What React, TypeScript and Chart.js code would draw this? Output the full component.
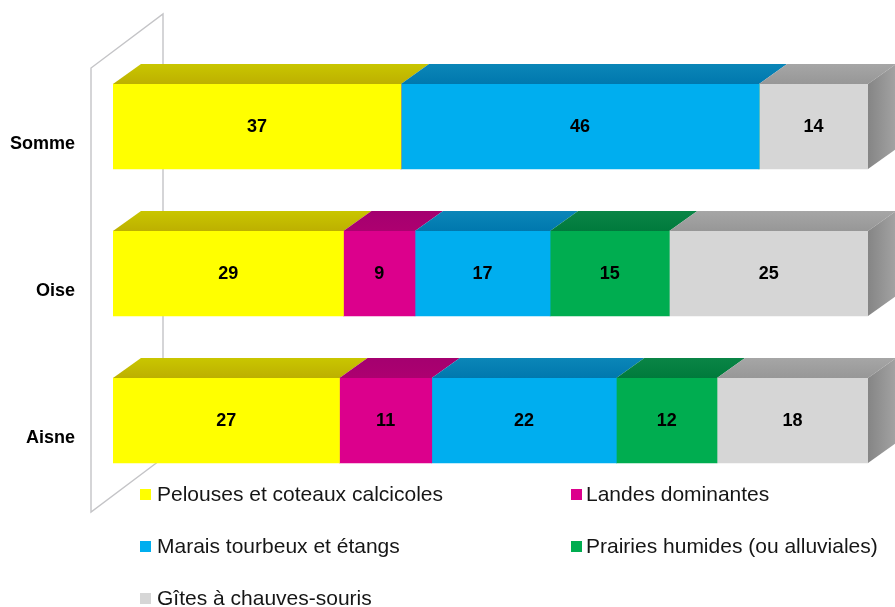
import React, { useEffect, useRef } from "react";
import { Chart, registerables } from "chart.js";

Chart.register(...registerables);

const departements = ["Somme", "Oise", "Aisne"];
const pelouses = [37, 29, 27];
const landes = [0, 9, 11];
const marais = [46, 17, 22];
const prairies = [0, 15, 12];
const gites = [14, 25, 18];

const seriesNames = [
  "Pelouses et coteaux calcicoles",
  "Landes dominantes",
  "Marais tourbeux et étangs",
  "Prairies humides (ou alluviales)",
  "Gîtes à chauves-souris",
];
const seriesValues = [pelouses, landes, marais, prairies, gites];
const frontColors = ["#FFFF00", "#DC008C", "#00AEEF", "#00AD50", "#D6D6D6"];
const topColorsBack = ["#C9C600", "#A4006F", "#0B86B8", "#0A8546", "#A6A6A6"];
const topColorsFront = ["#BDB000", "#AD0070", "#0078AE", "#007A3C", "#979797"];

const totals = departements.map((_, i) =>
  seriesValues.reduce((sum, s) => sum + s[i], 0)
);

const DEPTH_X = 28;
const DEPTH_Y = 20;
const FONT = '"Liberation Sans", Arial, Helvetica, sans-serif';

const wallPlugin = {
  id: "wall",
  beforeDatasetsDraw(chart: any) {
    const { ctx } = chart;
    ctx.save();
    ctx.strokeStyle = "#C4C4C7";
    ctx.lineWidth = 1.4;
    ctx.beginPath();
    ctx.moveTo(163, 458);
    ctx.lineTo(91, 512);
    ctx.lineTo(91, 68);
    ctx.lineTo(163, 14);
    ctx.closePath();
    ctx.stroke();
    ctx.restore();
  },
};

const depthPlugin = {
  id: "depth",
  afterDatasetsDraw(chart: any) {
    const { ctx } = chart;
    ctx.save();
    departements.forEach((_, j) => {
      let lastBar: any = null;
      seriesValues.forEach((s, i) => {
        const bar = chart.getDatasetMeta(i).data[j];
        if (!s[j]) return;
        const top = bar.y - bar.height / 2;
        const g = ctx.createLinearGradient(0, top - DEPTH_Y, 0, top);
        g.addColorStop(0, topColorsBack[i]);
        g.addColorStop(1, topColorsFront[i]);
        ctx.fillStyle = g;
        ctx.beginPath();
        ctx.moveTo(bar.base, top);
        ctx.lineTo(bar.x, top);
        ctx.lineTo(bar.x + DEPTH_X, top - DEPTH_Y);
        ctx.lineTo(bar.base + DEPTH_X, top - DEPTH_Y);
        ctx.closePath();
        ctx.fill();
        lastBar = bar;
      });
      if (lastBar) {
        const top = lastBar.y - lastBar.height / 2;
        const bottom = lastBar.y + lastBar.height / 2;
        const g = ctx.createLinearGradient(lastBar.x, 0, lastBar.x + DEPTH_X, 0);
        g.addColorStop(0, "#858585");
        g.addColorStop(1, "#A3A3A3");
        ctx.fillStyle = g;
        ctx.beginPath();
        ctx.moveTo(lastBar.x, top);
        ctx.lineTo(lastBar.x + DEPTH_X, top - DEPTH_Y);
        ctx.lineTo(lastBar.x + DEPTH_X, bottom - DEPTH_Y);
        ctx.lineTo(lastBar.x, bottom);
        ctx.closePath();
        ctx.fill();
      }
    });

    ctx.fillStyle = "#000";
    ctx.font = `bold 18px ${FONT}`;
    ctx.textAlign = "center";
    ctx.textBaseline = "middle";
    seriesValues.forEach((s, i) => {
      chart.getDatasetMeta(i).data.forEach((bar: any, j: number) => {
        if (s[j]) ctx.fillText(String(s[j]), (bar.x + bar.base) / 2, bar.y + 1);
      });
    });
    ctx.restore();
  },
};

const legendPlugin = {
  id: "gridLegend",
  afterDraw(chart: any) {
    const { ctx } = chart;
    const columns = [140, 571];
    const rows = [494, 546, 598];
    ctx.save();
    ctx.font = `21px ${FONT}`;
    ctx.textBaseline = "middle";
    ctx.textAlign = "left";
    seriesNames.forEach((name, i) => {
      const x = columns[i % 2];
      const y = rows[Math.floor(i / 2)];
      ctx.fillStyle = frontColors[i];
      ctx.fillRect(x, y - 5, 11, 11);
      ctx.fillStyle = "#161616";
      ctx.fillText(name, x + (i % 2 ? 15 : 17), y + 1);
    });
    ctx.restore();
  },
};

export default function App() {
  const ref = useRef<HTMLCanvasElement>(null);

  useEffect(() => {
    document.body.style.margin = "0";
    document.body.style.background = "#fff";
    const chart = new Chart(ref.current!, {
      type: "bar",
      data: {
        labels: departements,
        datasets: seriesNames.map((name, i) => ({
          label: name,
          data: seriesValues[i].map((v, j) => (v / totals[j]) * 100),
          backgroundColor: frontColors[i],
          borderWidth: 0,
          barThickness: 85,
        })),
      },
      options: {
        indexAxis: "y",
        animation: false,
        responsive: false,
        maintainAspectRatio: false,
        layout: { padding: { left: 0, right: 27, top: 53, bottom: 113 } },
        plugins: { legend: { display: false }, tooltip: { enabled: false } },
        scales: {
          x: { stacked: true, min: 0, max: 100, display: false },
          y: {
            stacked: true,
            afterFit(scale: any) {
              scale.width = 113;
            },
            grid: { display: false },
            border: { display: false },
            ticks: {
              padding: 30,
              labelOffset: 18,
              color: "#000",
              font: { family: FONT, size: 18, weight: "bold" },
            },
          },
        },
      },
      plugins: [wallPlugin, depthPlugin, legendPlugin],
    } as any);
    return () => chart.destroy();
  }, []);

  return (
    <canvas
      ref={ref}
      width={895}
      height={607}
      style={{ display: "block", width: 895, height: 607 }}
    />
  );
}
